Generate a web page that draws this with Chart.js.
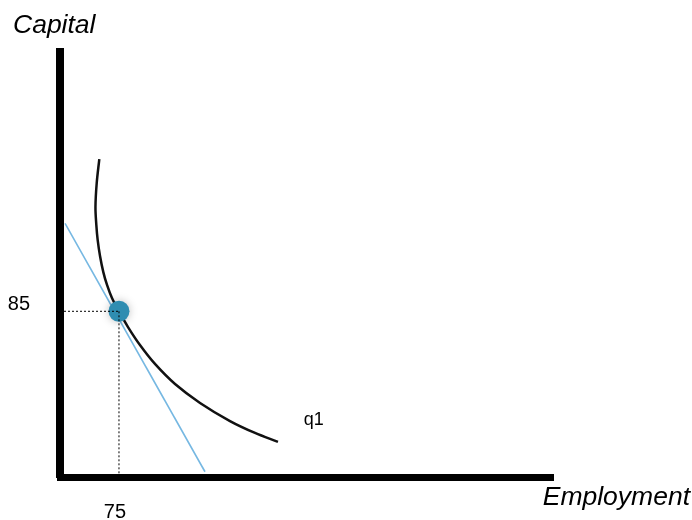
<!DOCTYPE html>
<html>
<head>
<meta charset="utf-8">
<script src="https://cdn.jsdelivr.net/npm/chart.js@4/dist/chart.umd.min.js"></script>
<style>
  body { margin: 0; background: #fff; }
  #wrap { width: 692px; height: 520px; }
</style>
</head>
<body>
<div id="wrap"><canvas id="myChart"></canvas></div>
<script>
// isoquant q1 (employment, capital)
const qEmployment = [50, 46.7, 45.1, 46.2, 47.9, 50.9, 55.1, 59.8, 66.1, 75, 86.5, 101.7, 120.8, 146.3, 178.1, 216.2, 248, 277.2];
const qCapital = [163.1, 150.8, 138.5, 129.3, 121.6, 113.4, 105.1, 98.5, 91.8, 85, 76.9, 67.7, 58, 47.7, 38, 28.7, 22.6, 18];

// isocost line end points
const costEmployment = [6.4, 184.4];
const costCapital = [130.1, 2.7];

// chosen point and its tick labels
const optEmployment = [75];
const optCapital = [85];

const xMax = 627;
const yMax = 218;

const toPoints = (xs, ys) => xs.map((x, i) => ({ x: x, y: ys[i] }));

const textPlugin = {
    id: "axisText",
    afterDraw: (chart) => {
        const ctx = chart.ctx;
        const x = chart.scales.x;
        const y = chart.scales.y;
        ctx.save();
        ctx.fillStyle = "#000";
        ctx.textBaseline = "alphabetic";
        ctx.font = "italic 26.5px 'Liberation Sans', Arial, sans-serif";
        ctx.textAlign = "left";
        ctx.fillText("Capital", 13, 33);
        ctx.textAlign = "right";
        ctx.fillText("Employment", 690, 505);
        // curve label next to the end of q1
        ctx.font = "18px 'Liberation Sans', Arial, sans-serif";
        ctx.textAlign = "left";
        ctx.fillText("q1", x.getPixelForValue(310), y.getPixelForValue(26.5));
        ctx.restore();
    },
};

const shadowPlugin = {
    id: "dotShadow",
    beforeDatasetDraw: (chart, args) => {
        if (args.meta.label !== "dot") return;
        const ctx = chart.ctx;
        ctx.save();
        ctx.shadowColor = "rgba(0,0,0,0.25)";
        ctx.shadowBlur = 8;
    },
    afterDatasetDraw: (chart, args) => {
        if (args.meta.label !== "dot") return;
        chart.ctx.restore();
    },
};

const renderChart = () => {
    const ctx = document.getElementById("myChart");
    new Chart(ctx, {
        type: "scatter",
        data: {
            datasets: [
                {
                    label: "guide-h",
                    data: [{ x: 0, y: optCapital[0] }, { x: optEmployment[0], y: optCapital[0] }],
                    showLine: true,
                    borderColor: "#000",
                    borderWidth: 1,
                    borderDash: [2, 2],
                    pointRadius: 0,
                    order: 0,
                },
                {
                    label: "guide-v",
                    data: [{ x: optEmployment[0], y: optCapital[0] }, { x: optEmployment[0], y: 0 }],
                    showLine: true,
                    borderColor: "#000",
                    borderWidth: 1,
                    borderDash: [2, 2],
                    pointRadius: 0,
                    order: 0,
                },
                {
                    label: "dot",
                    data: toPoints(optEmployment, optCapital),
                    pointRadius: 10.5,
                    pointBackgroundColor: "#2f8db1",
                    pointBorderWidth: 0,
                    order: 1,
                },
                {
                    label: "q1",
                    data: toPoints(qEmployment, qCapital),
                    showLine: true,
                    tension: 0.35,
                    borderColor: "#111",
                    borderWidth: 2.5,
                    pointRadius: 0,
                    order: 2,
                },
                {
                    label: "isocost",
                    data: toPoints(costEmployment, costCapital),
                    showLine: true,
                    borderColor: "#76b8e2",
                    borderWidth: 1.6,
                    pointRadius: 0,
                    order: 3,
                },
            ],
        },
        options: {
            responsive: true,
            maintainAspectRatio: false,
            animation: false,
            layout: { padding: { top: 52, right: 139, bottom: 0, left: 0 } },
            plugins: {
                legend: { display: false },
                tooltip: { enabled: false },
            },
            scales: {
                x: {
                    type: "linear",
                    min: 0,
                    max: xMax,
                    grid: { display: false, drawTicks: false },
                    border: { display: true, color: "#000", width: 7 },
                    afterBuildTicks: (axis) => {
                        axis.ticks = optEmployment.map((v) => ({ value: v }));
                    },
                    afterFit: (axis) => {
                        axis.height = 43;
                    },
                    ticks: {
                        color: "#000",
                        padding: 23,
                        labelOffset: -4,
                        maxRotation: 0,
                        font: { family: "'Liberation Sans', Arial, sans-serif", size: 20 },
                    },
                },
                y: {
                    type: "linear",
                    min: 0,
                    max: yMax,
                    grid: { display: false, drawTicks: false },
                    border: { display: true, color: "#000", width: 8 },
                    afterBuildTicks: (axis) => {
                        axis.ticks = optCapital.map((v) => ({ value: v }));
                    },
                    afterFit: (axis) => {
                        axis.width = 60;
                    },
                    ticks: {
                        color: "#000",
                        padding: 30,
                        labelOffset: -7,
                        font: { family: "'Liberation Sans', Arial, sans-serif", size: 20 },
                    },
                },
            },
        },
        plugins: [textPlugin, shadowPlugin],
    });
};

renderChart();
</script>
</body>
</html>
